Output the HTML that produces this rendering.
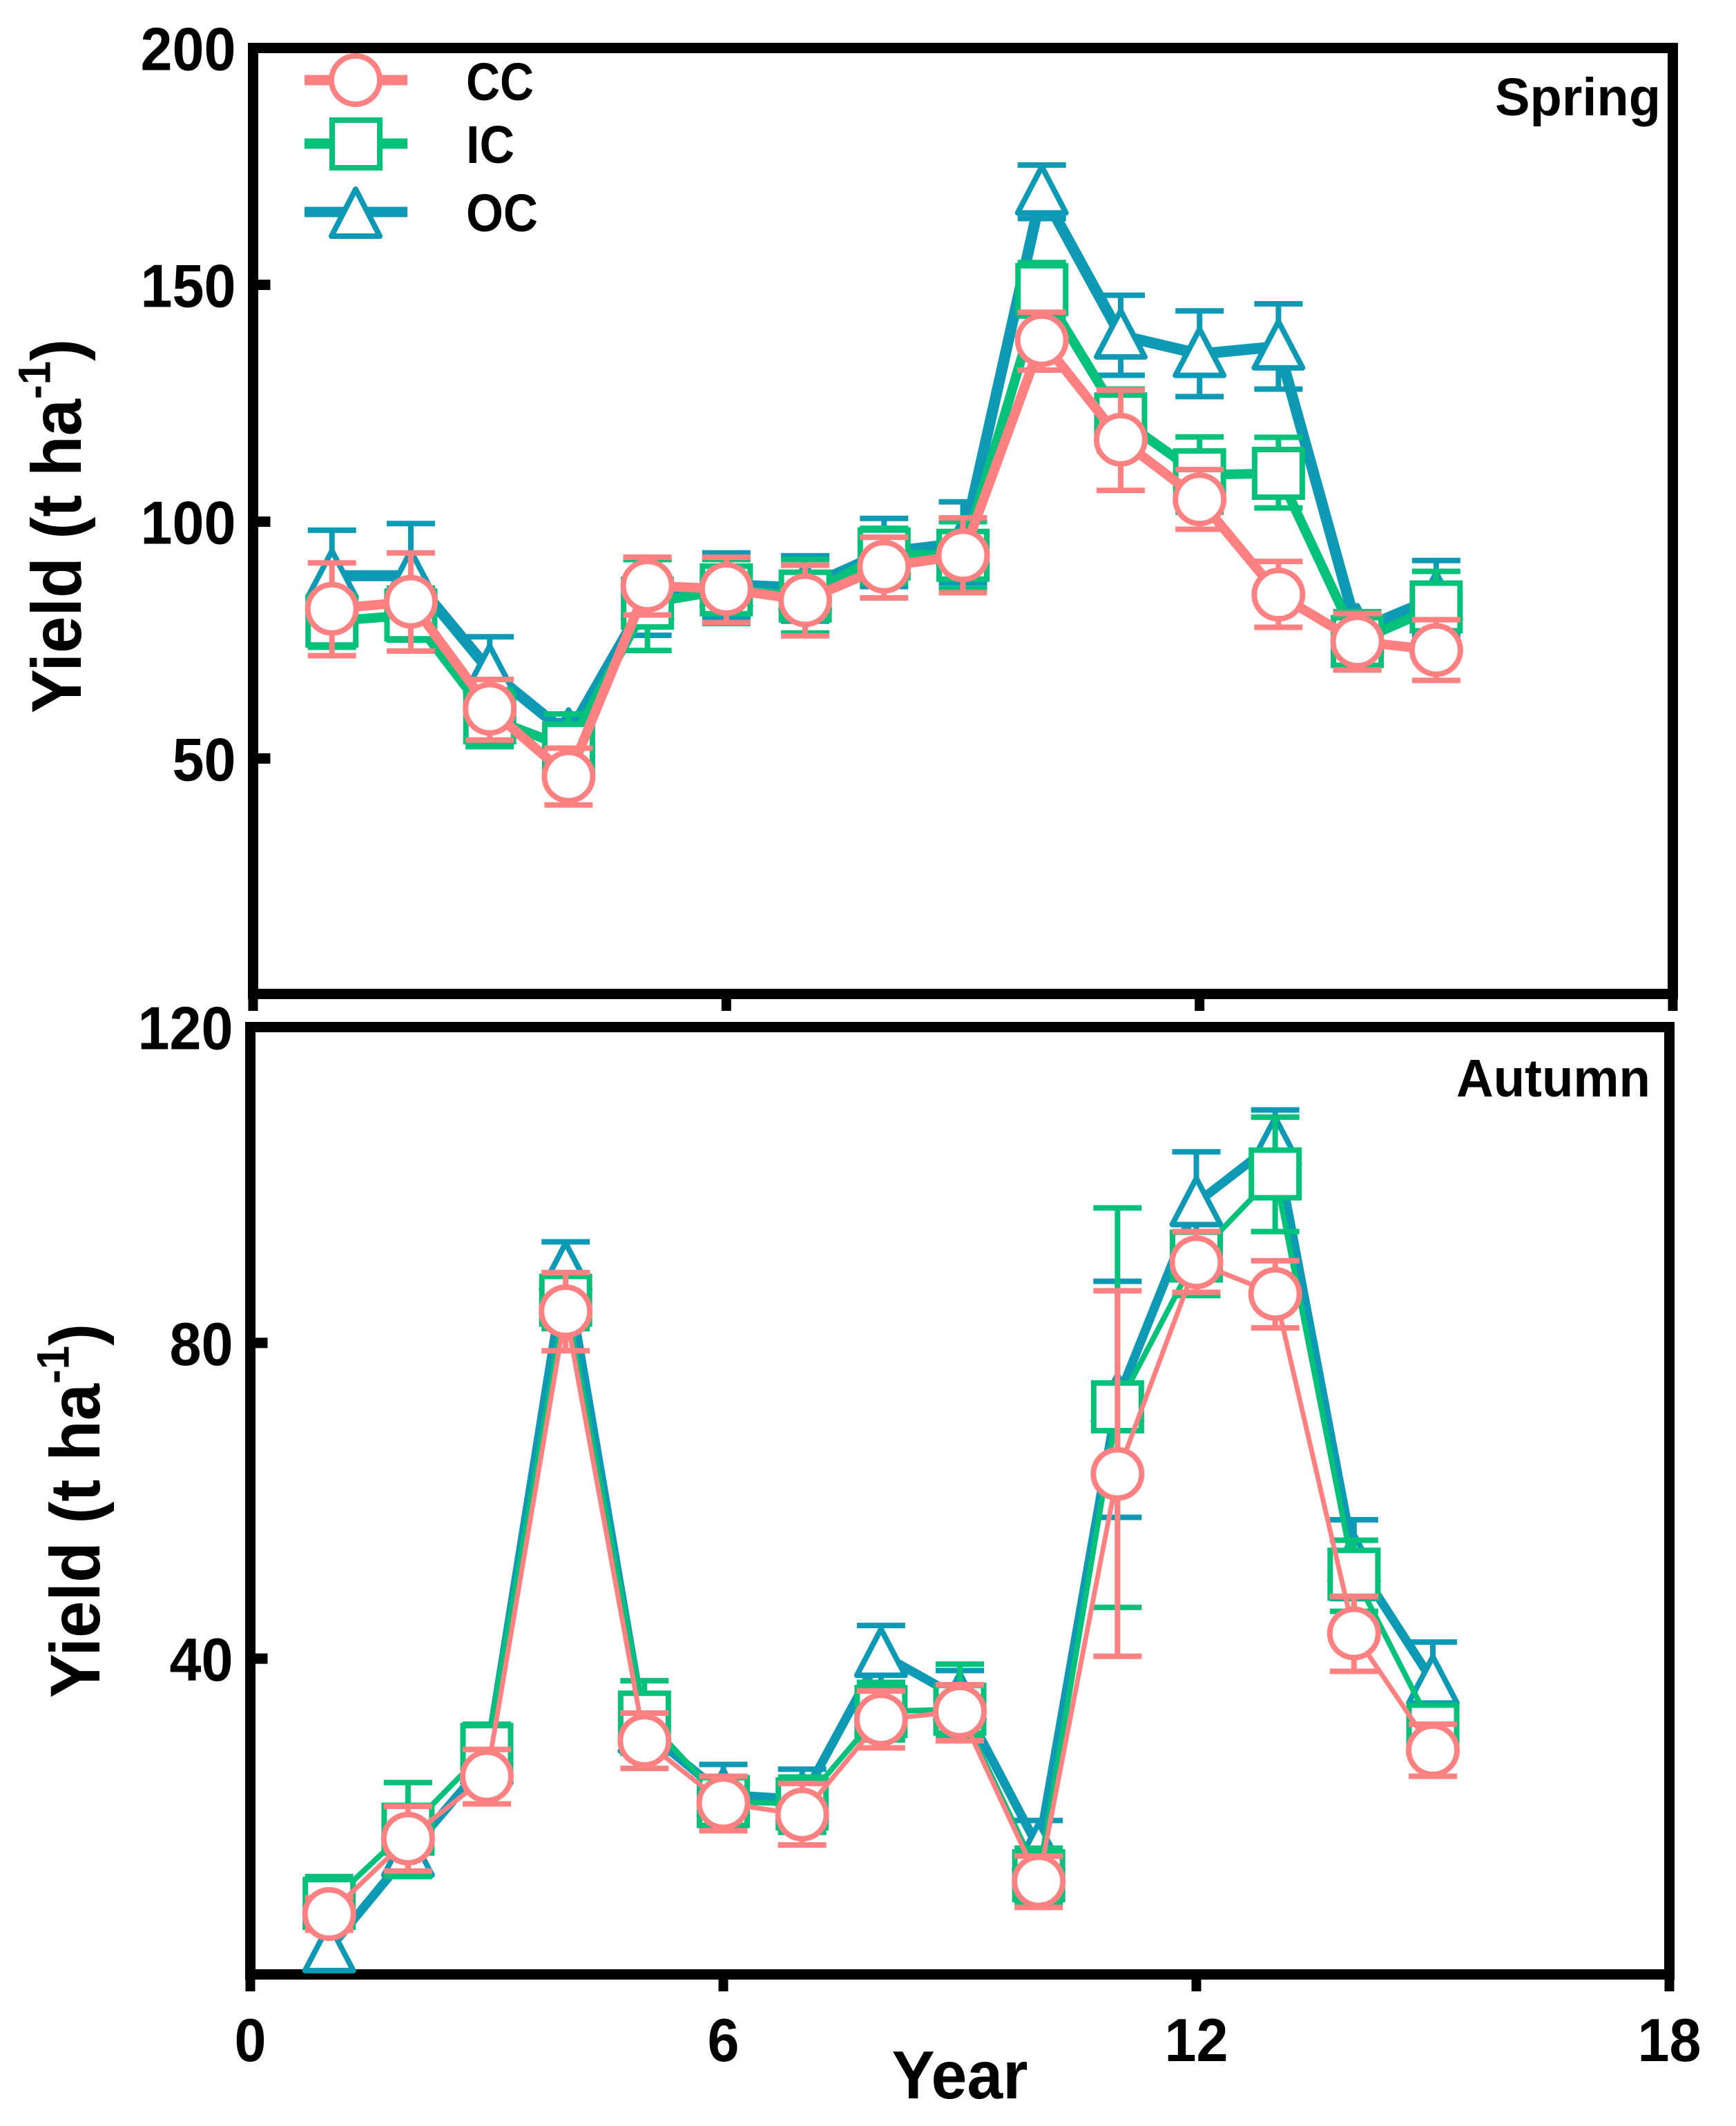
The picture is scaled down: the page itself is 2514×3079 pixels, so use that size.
<!DOCTYPE html>
<html lang="en">
<head>
<meta charset="utf-8">
<title>Yield by year: Spring and Autumn</title>
<style>
html,body{margin:0;padding:0;background:#fff;}
svg{display:block;font-family:"Liberation Sans",Arial,sans-serif;font-weight:bold;fill:#000;}
</style>
</head>
<body>
<svg id="chart" xmlns="http://www.w3.org/2000/svg" width="2514" height="3079" viewBox="0 0 2514 3079">
  <rect x="0" y="0" width="2514" height="3079" fill="#fff"/>
  <g id="spring-panel"></g>
  <g id="autumn-panel"></g>

  <text transform="translate(117,762) rotate(-90) scale(1,1.06)" text-anchor="middle" font-size="96">Yield (t ha<tspan font-size="62" dy="-42">-1</tspan><tspan dy="42">)</tspan></text>
  <text transform="translate(144,2188) rotate(-90) scale(1,1.06)" text-anchor="middle" font-size="96">Yield (t ha<tspan font-size="62" dy="-42">-1</tspan><tspan dy="42">)</tspan></text>
  <text x="1390" y="3039" text-anchor="middle" font-size="98" textLength="197" lengthAdjust="spacingAndGlyphs">Year</text>
  <text x="2405" y="167" text-anchor="end" font-size="77" textLength="240" lengthAdjust="spacingAndGlyphs">Spring</text>
  <text x="2390" y="1588" text-anchor="end" font-size="77" textLength="281" lengthAdjust="spacingAndGlyphs">Autumn</text>

  <g>
    <g>
      <line x1="441" x2="590" y1="116" y2="116" stroke="#FF8080" stroke-width="15"/>
      <circle cx="515" cy="116" r="35" fill="#fff" stroke="#FF8080" stroke-width="8"/>
      <text x="675" y="145" font-size="77" textLength="98" lengthAdjust="spacingAndGlyphs">CC</text>
    </g>
    <g>
      <line x1="441" x2="590" y1="208" y2="208" stroke="#06C17A" stroke-width="15"/>
      <rect x="481" y="174" width="69" height="69" fill="#fff" stroke="#06C17A" stroke-width="8"/>
      <text x="675" y="236" font-size="77" textLength="70" lengthAdjust="spacingAndGlyphs">IC</text>
    </g>
    <g>
      <line x1="441" x2="590" y1="307" y2="307" stroke="#0E9AB5" stroke-width="15"/>
      <polygon points="515,274 550,342 480,342" fill="#fff" stroke="#0E9AB5" stroke-width="8" stroke-linejoin="round"/>
      <text x="675" y="335" font-size="77" textLength="104" lengthAdjust="spacingAndGlyphs">OC</text>
    </g>
  </g>
</svg>

<script>
const years = [1,2,3,4,5,6,7,8,9,10,11,12,13,14,15];
const xTickValues = [0,6,12,18];
const springYTickValues = [50,100,150,200];
const autumnYTickValues = [40,80,120];

const springCC = [81.6,83.1,60.5,46.2,86.5,85.8,83.4,90.5,92.9,138.3,117.3,104.7,84.6,74.7,72.9];
const springCCHigh = [91.3,93.4,66.7,52.2,92.5,92.5,90.8,96.7,100.8,144.2,127.8,111,91.6,80.6,79.3];
const springCCLow = [71.7,72.7,53.9,40.2,80.3,78.7,75.9,83.9,85,132,106.6,98.4,77.7,68.7,66.5];

const springIC = [79,80.3,58.6,52.2,82.8,85.6,84.3,93.2,92.9,149,121.7,109.9,110.2,74.7,82];
const springICHigh = [84.5,86,64.5,59.4,92,92,92,98.6,100,154.7,128,117.9,117.8,81,89.5];
const springICLow = [73.5,75,52.5,45,72.8,78.5,76.5,87,85.8,143.4,115,102,102.9,68.7,74.5];

const springOC = [88.6,88.6,68.5,55,84,86.7,86,93.5,95.5,169.7,139.3,135.4,137,77,84];
const springOCHigh = [98.2,99.6,75.7,58,92,93.4,92.8,100.7,104.2,175.3,147.8,144.5,146,80,91.8];
const springOCLow = [79,77.6,61.3,52,76,79.6,79,86.3,87,164,130.9,126.4,128,74,76];

const autumnCC = [7.65,17.2,25.1,84,29.6,21.7,20.25,32.3,33.3,11.8,63.4,90.2,86.2,43.2,28.4];
const autumnCCHigh = [9.7,21.3,28.5,88.9,33.1,25.1,24.2,35.9,36.7,15,86.6,94.1,90.4,47.9,31.7];
const autumnCCLow = [5.6,13.1,21.6,79,26.1,18.2,16.4,28.7,29.6,8.5,40.3,86.4,81.9,38.4,25.1];

const autumnIC = [9,18.4,28.5,85.4,32.6,21.9,21.6,33.3,33.6,12.5,71.9,91,101.4,50.7,31.1];
const autumnICHigh = [12.4,24.3,31.7,88.9,37.2,25,25,37,39.3,16,97.1,94,108.6,55,34];
const autumnICLow = [5.6,12.4,25,81.8,28,18.8,18,29.7,30.1,9,46.5,86,94.1,46,28];

const autumnOC = [3.2,15.3,27,89.5,31,22.8,22.2,40.6,35,16,72.8,97.7,105.4,52.6,37.1];
const autumnOCHigh = [6.5,19,29,92.8,34.5,26.6,26,44.2,38.5,19.5,87.8,104.2,109.5,57.6,42.1];
const autumnOCLow = [0.5,13,25,86.2,28.5,19,18.5,37,31.5,12.5,57.9,91.2,101.3,47.6,32];

const NS = 'http://www.w3.org/2000/svg';
const PINK = '#FF8080', GREEN = '#06C17A', BLUE = '#0E9AB5';

function make(tag, parent) {
  const el = document.createElementNS(NS, tag);
  parent.appendChild(el);
  return el;
}
function setAll(el, props) {
  for (const k in props) el.setAttribute(k, props[k]);
  return el;
}

function drawSeries(parent, name, kind, color, lineWidth, values, highs, lows, xs, ys) {
  const g = make('g', parent);
  
  

  const line = make('polyline', g);
  
  
  setAll(line, {
    points: values.map((v, i) => xs(years[i]) + ',' + ys(v)).join(' '),
    fill: 'none', stroke: color, 'stroke-width': lineWidth, 'stroke-linejoin': 'round'
  });

  values.forEach((v, i) => {
    const cx = xs(years[i]);
    const err = make('path', g);
    
    
    const hi = ys(highs[i]), lo = ys(lows[i]);
    setAll(err, {
      d: 'M' + cx + ' ' + hi + 'V' + lo + 'M' + (cx - 35) + ' ' + hi + 'H' + (cx + 35) + 'M' + (cx - 35) + ' ' + lo + 'H' + (cx + 35),
      fill: 'none', stroke: color, 'stroke-width': 8
    });
  });

  values.forEach((v, i) => {
    const cx = xs(years[i]), cy = ys(v);
    let m;
    if (kind === 'circle') {
      m = make('circle', g);
      setAll(m, { cx: cx, cy: cy, r: 35 });
    } else if (kind === 'square') {
      m = make('rect', g);
      setAll(m, { x: cx - 34.5, y: cy - 34.5, width: 69, height: 69 });
    } else {
      m = make('polygon', g);
      setAll(m, { points: cx + ',' + (cy - 36) + ' ' + (cx + 35) + ',' + (cy + 31) + ' ' + (cx - 35) + ',' + (cy + 31), 'stroke-linejoin': 'round' });
    }
    
    
    setAll(m, { fill: '#fff', stroke: color, 'stroke-width': 8 });
  });
}

function drawFrame(parent, name, left, right, top, bottom, xs, ys, yTicks, xTickTop, xLabels) {
  const frame = make('rect', parent);
  
  
  setAll(frame, { x: left, y: top, width: right - left, height: bottom - top, fill: 'none', stroke: '#000', 'stroke-width': 15 });

  yTicks.forEach(v => {
    const t = make('line', parent);
    
    
    setAll(t, { x1: left, x2: left + 25, y1: ys(v), y2: ys(v), stroke: '#000', 'stroke-width': 15 });
    const l = make('text', parent);
    
    
    setAll(l, { x: left - 25, y: ys(v) + 32, 'text-anchor': 'end', 'font-size': 88, textLength: String(v).length * 46, lengthAdjust: 'spacingAndGlyphs' });
    l.textContent = v;
  });

  xTickValues.forEach(v => {
    const t = make('line', parent);
    
    
    setAll(t, { x1: xs(v), x2: xs(v), y1: bottom, y2: xTickTop, stroke: '#000', 'stroke-width': 14 });
    if (xLabels) {
      const l = make('text', parent);
      
      
      setAll(l, { x: xs(v), y: 2985, 'text-anchor': 'middle', 'font-size': 88, textLength: String(v).length * 46, lengthAdjust: 'spacingAndGlyphs' });
      l.textContent = v;
    }
  });
}

function linear(d0, d1, r0, r1) {
  return v => r0 + (v - d0) * (r1 - r0) / (d1 - d0);
}

const springPanel = document.getElementById('spring-panel');
const springX = linear(0, 18, 366.5, 2422.5);
const springY = linear(0.3, 200, 1439.5, 69.5);
drawFrame(springPanel, 'spring', 366.5, 2422.5, 69.5, 1439.5, springX, springY, springYTickValues, 1464, false);
drawSeries(springPanel, 'spring-oc', 'triangle', BLUE, 16, springOC, springOCHigh, springOCLow, springX, springY);
drawSeries(springPanel, 'spring-ic', 'square', GREEN, 14, springIC, springICHigh, springICLow, springX, springY);
drawSeries(springPanel, 'spring-cc', 'circle', PINK, 14, springCC, springCCHigh, springCCLow, springX, springY);

const autumnPanel = document.getElementById('autumn-panel');
const autumnX = linear(0, 18, 362.5, 2417.5);
const autumnY = linear(0, 120, 2859.5, 1487.5);
drawFrame(autumnPanel, 'autumn', 362.5, 2417.5, 1487.5, 2859.5, autumnX, autumnY, autumnYTickValues, 2884, true);
drawSeries(autumnPanel, 'autumn-oc', 'triangle', BLUE, 13, autumnOC, autumnOCHigh, autumnOCLow, autumnX, autumnY);
drawSeries(autumnPanel, 'autumn-ic', 'square', GREEN, 8, autumnIC, autumnICHigh, autumnICLow, autumnX, autumnY);
drawSeries(autumnPanel, 'autumn-cc', 'circle', PINK, 7, autumnCC, autumnCCHigh, autumnCCLow, autumnX, autumnY);
</script>
</body>
</html>
